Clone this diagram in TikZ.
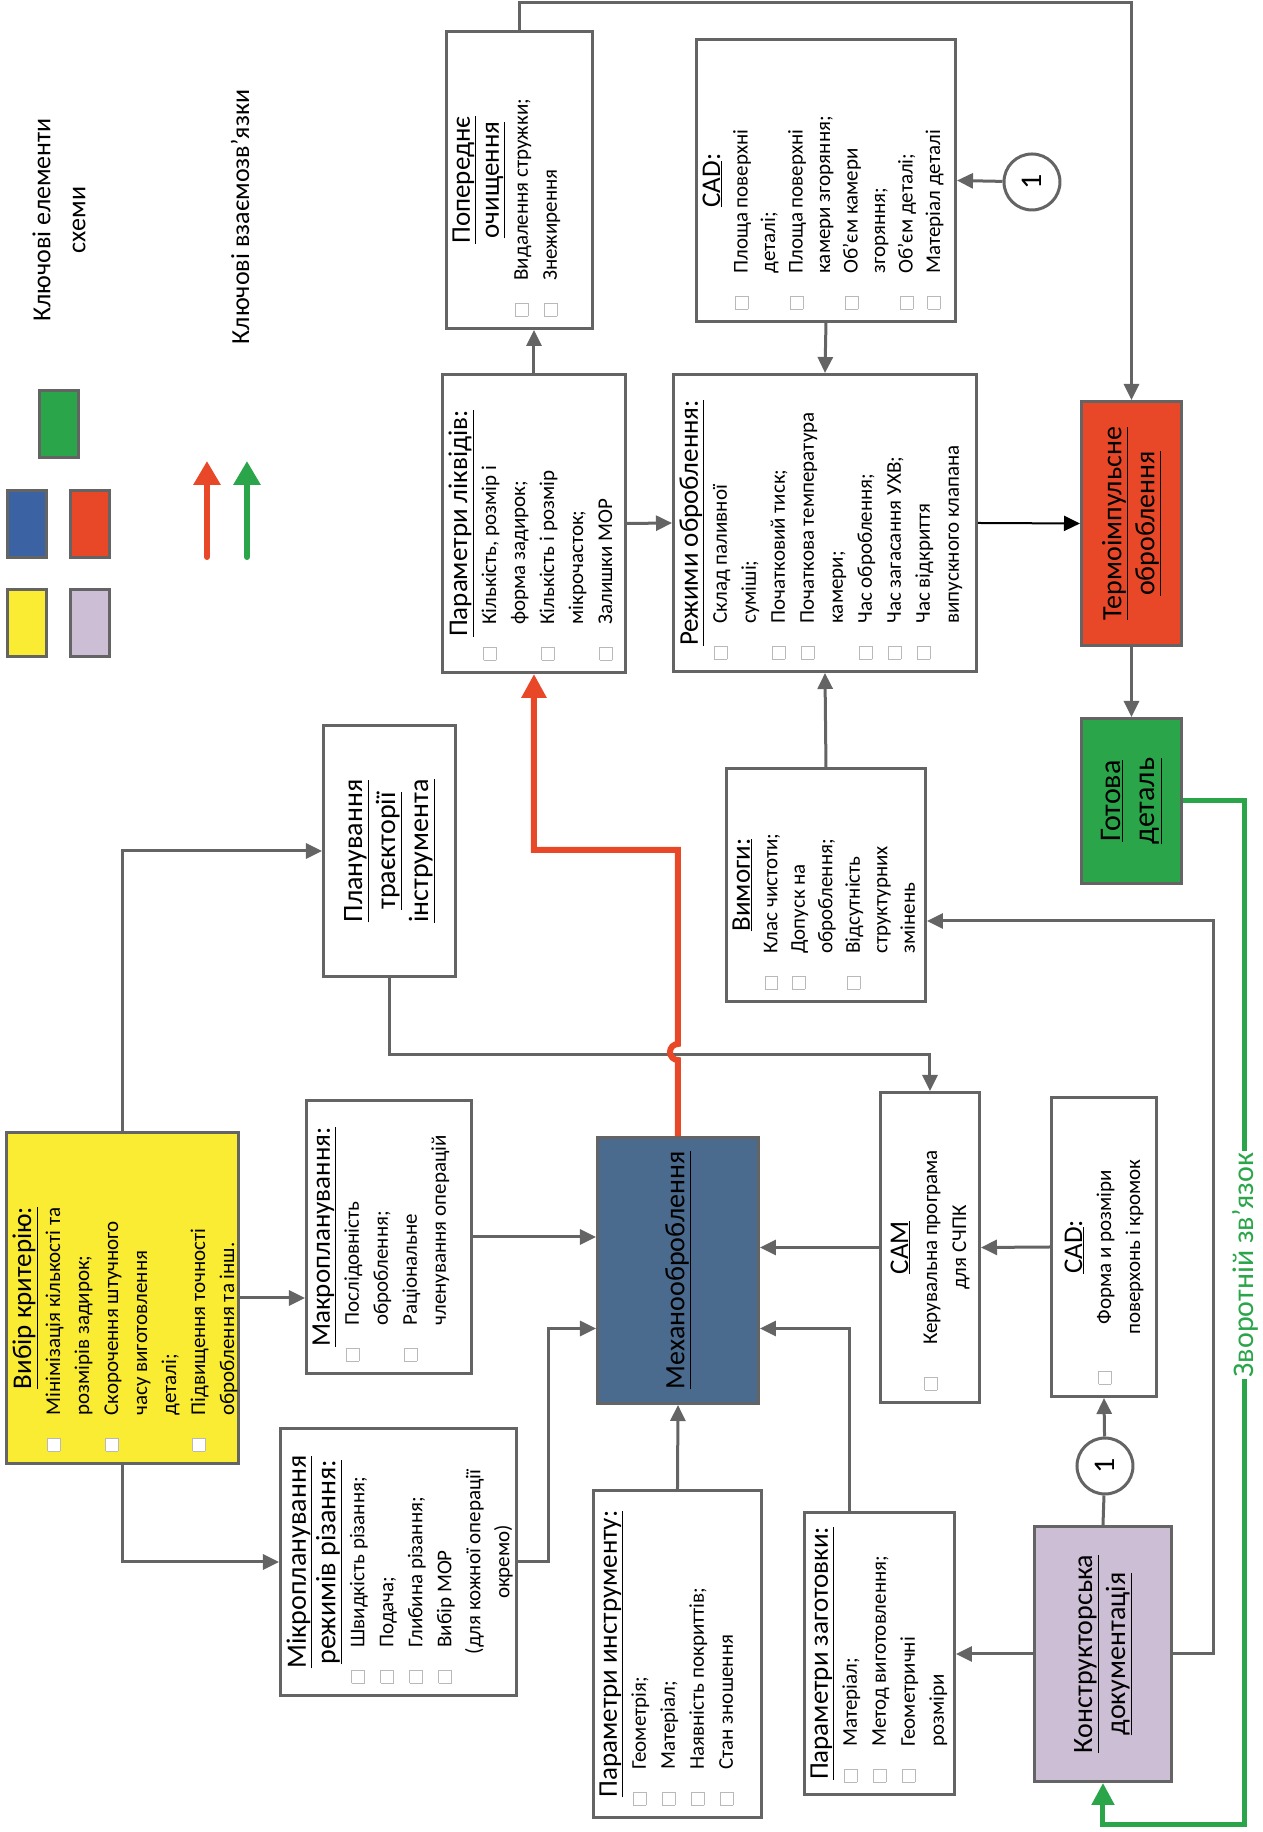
\documentclass[tikz,border=0pt]{standalone}
\usepackage{fontspec}
\setmainfont{Carlito}
\usetikzlibrary{arrows.meta,positioning,calc}

\definecolor{lgray}{RGB}{100,100,100}
\definecolor{sqgray}{RGB}{185,185,185}
\definecolor{cYellow}{RGB}{250,236,50}
\definecolor{cLilac}{RGB}{204,190,212}
\definecolor{cBlue}{RGB}{59,99,163}
\definecolor{cSteel}{RGB}{74,106,142}
\definecolor{cRed}{RGB}{232,72,40}
\definecolor{cGreen}{RGB}{42,165,74}

\newcommand{\bodyfont}{\fontsize{21}{29}\selectfont}
\newcommand{\headfont}{\fontsize{27}{29}\selectfont}
\newcommand{\bighead}{\fontsize{28}{29.5}\selectfont}
\newcommand{\titlefont}{\fontsize{28}{33}\selectfont}
\newcommand{\sqbox}{{\setlength{\fboxsep}{0pt}\setlength{\fboxrule}{0.8pt}\fcolorbox{sqgray}{white}{\rule{0pt}{12pt}\rule{12pt}{0pt}}}}
\newcommand{\hd}[2][\headfont]{{\centering#1 #2\par}}
\newcommand{\itm}[1]{\par\noindent\hangindent=42pt\hangafter=1\makebox[42pt][l]{\hspace*{6pt}\sqbox}{\let\\\newline#1}\par}
\newcommand{\sqline}[1]{\par\noindent\rlap{\hspace*{6pt}\sqbox}\makebox[\linewidth]{#1}\par}
\newcommand{\blocktext}[4][t]{\parbox[c][\dimexpr#3pt-12pt\relax][#1]{\dimexpr#2pt-12pt\relax}{\raggedright#4}}

\begin{document}
\begin{tikzpicture}[x=1pt, y=1pt, rotate=90, transform shape,
    blk/.style={draw=lgray, line width=3pt, fill=white, inner sep=6pt, anchor=south west, font=\bodyfont},
    ttl/.style={draw=lgray, line width=3pt, inner sep=4pt, anchor=south west, align=center, font=\titlefont},
    arr/.style={draw=lgray, line width=3pt, -{Triangle[length=16pt,width=15pt]}},
    lnk/.style={draw=lgray, line width=3pt},
    num/.style={circle, draw=lgray, line width=3pt, fill=white, minimum size=56pt, inner sep=0pt, font=\fontsize{30}{30}\selectfont},
    leg/.style={draw=lgray, line width=3pt, minimum width=67pt, minimum height=39pt}]
  \useasboundingbox (0,0) rectangle (1832,1262);

  % legend
  \node[leg, fill=cYellow] (kyel) at (1208.5,1234.5) {};
  \node[leg, fill=cLilac] (klil) at (1208.5,1171.5) {};
  \node[leg, fill=cBlue] (kblu) at (1308,1234.5) {};
  \node[leg, fill=cRed] (kred) at (1308,1171.5) {};
  \node[leg, fill=cGreen] (kgrn) at (1407.5,1203) {};
  \node[font=\fontsize{26}{35}\selectfont, align=center] (klabel) at (1612,1203) {Ключові елементи\\схеми};
  \node[font=\fontsize{26}{35}\selectfont] (alabel) at (1615,1022) {Ключові взаємозв'язки};
  \coordinate (ra0) at (1275,1055);
  \coordinate (ra1) at (1371,1055);
  \coordinate (ga0) at (1275,1015);
  \coordinate (ga1) at (1371,1015);
  \draw[cRed, line width=6pt, line cap=round, -{Triangle[length=24pt,width=26pt]}] (ra0) -- (ra1);
  \draw[cGreen, line width=6pt, line cap=round, -{Triangle[length=24pt,width=26pt]}] (ga0) -- (ga1);

  % machining side
  \node[blk, fill=cYellow] (sel) at (367,1022) {\blocktext{331}{232}{\hd{\underline{Вибір критерію:}}
    \itm{Мінімізація кількості та\\розмірів задирок;}
    \itm{Скорочення штучного\\часу виготовлення\\деталі;}
    \itm{Підвищення точності\\оброблення та інш.}}};
  \node[blk] (micro) at (135,744) {\blocktext{267}{236}{\hd[\bighead]{\underline{Мікропланування}\\\underline{режимів різання:}}
    \itm{Швидкість різання;}
    \itm{Подача;}
    \itm{Глибина різання;}
    \itm{Вибір МОР}
    {\centering(для кожної операції\\окремо)\par}}};
  \node[blk] (macro) at (457,789) {\blocktext{273}{165}{\hd{\underline{Макропланування:}}
    \itm{Послідовність\\оброблення;}
    \itm{Раціональне\\членування операцій}}};
  \node[ttl, minimum width=251pt, minimum height=132pt] (path) at (854,805)
    {\underline{Планування}\\\underline{траєкторії}\\\underline{інструмента}};
  \node[ttl, fill=cSteel, minimum width=266pt, minimum height=161pt] (mech) at (427,502)
    {\underline{Механооброблення}};
  \node[blk] (tool) at (13,499) {\blocktext{327}{168}{\hd{\underline{Параметри инструменту:}}
    \itm{Геометрія;}
    \itm{Матеріал;}
    \itm{Наявність покриттів;}
    \itm{Стан зношення}}};
  \node[blk] (blank) at (36,306) {\blocktext{282}{150}{\hd{\underline{Параметри заготовки:}}
    \itm{Матеріал;}
    \itm{Метод виготовлення;}
    \itm{Геометричні\\розміри}}};
  \node[ttl, fill=cLilac, minimum width=255pt, minimum height=137pt] (docs) at (49,89)
    {\underline{Конструкторська}\\\underline{документація}};
  \node[blk] (cam) at (428,281) {\blocktext[c]{310}{99}{\hd{\underline{CAM}}
    \sqline{Керувальна програма}
    {\centering для СЧПК\par}}};
  \node[blk] (cadb) at (434,104) {\blocktext[c]{299}{105}{\hd{\underline{CAD}:}
    \sqline{Форма и розміри}
    {\centering поверхонь і кромок\par}}};
  \node[num] (c1b) at (366,157) {1};
  \node[blk, font=\fontsize{21}{27.5}\selectfont] (req) at (829,335) {\blocktext{233}{199}{\hd[\fontsize{27}{27.5}\selectfont]{\underline{Вимоги:}}
    \itm{Клас чистоти;}
    \itm{Допуск на\\оброблення;}
    \itm{Відсутність\\структурних\\змінень}}};

  % thermal side
  \node[blk] (liq) at (1158,635) {\blocktext{298}{183}{\hd{\underline{Параметри ліквідів:}}
    \itm{Кількість, розмір і\\форма задирок;}
    \itm{Кількість і розмір\\мікрочасток;}
    \itm{Залишки МОР}}};
  \node[blk] (clean) at (1502,668) {\blocktext{297}{146}{\hd{\underline{Попереднє}\\\underline{очищення}}
    \itm{Видалення стружки;}
    \itm{Знежирення}}};
  \node[blk] (mode) at (1159,284) {\blocktext{297}{303}{\hd{\underline{Режими оброблення:}}
    \itm{Склад паливної\\суміші;}
    \itm{Початковий тиск;}
    \itm{Початкова температура\\камери;}
    \itm{Час оброблення;}
    \itm{Час загасання УХВ;}
    \itm{Час відкриття\\випускного клапана}}};
  \node[blk, font=\fontsize{21}{27.5}\selectfont] (cadt) at (1509,305) {\blocktext{282}{259}{\hd{\underline{CAD}:}
    \itm{Площа поверхні\\деталі;}
    \itm{Площа поверхні\\камери згоряння;}
    \itm{Об'єм камери\\згоряння;}
    \itm{Об'єм деталі;}
    \itm{Матеріал деталі}}};
  \node[num] (c1t) at (1650,230) {1};
  \node[ttl, fill=cRed, minimum width=244pt, minimum height=100pt] (tpo) at (1185,79)
    {\underline{Термоімпульсне}\\\underline{оброблення}};
  \node[ttl, fill=cGreen, minimum width=165pt, minimum height=100pt, font=\fontsize{30}{34}\selectfont] (part) at (947,79)
    {\underline{Готова}\\\underline{деталь}};

  % links
  \draw[arr] (sel.east) -| (path.north);
  \draw[arr] (sel.south) -- (sel.south |- macro.north);
  \draw[arr] (sel.west) -| (micro.north);
  \draw[arr] (macro.south) -- (macro.south |- mech.north);
  \draw[arr] (micro.south) -- ++(0,-31) -| ([xshift=-58pt]mech.north);
  \draw[arr] (path.west) -- ++(-77,0) |- (cam.east);
  \draw[arr] (tool.east) -- (mech.west);
  \draw[arr] ([yshift=30pt]blank.east) -| ([xshift=-58pt]mech.south);
  \draw[arr] (cam.north) -- (cam.north |- mech.south);
  \draw[arr] (cadb.north) -- (cam.south);
  \draw[lnk] (docs.east) -- (c1b);
  \draw[arr] (c1b) -- (cadb.west);
  \draw[arr] (docs.north) -- (docs.north |- blank.south);
  \draw[arr] (docs.south) -- ++(0,-41) -| ([xshift=-36pt]req.south);
  \draw[arr] (req.east) -- (mode.west);
  \draw[arr] (liq.south) -- (mode.north);
  \draw[arr] (liq.east) -- (liq.east -| clean.west);
  \draw[arr] (cadt.west) -- (mode.east);
  \draw[arr] (c1t) -- (cadt.south);
  \draw[black, line width=2pt, -{Triangle[length=16pt,width=15pt]}] (mode.south) -- (tpo.north);
  \draw[arr] (clean.east) -- ++(27,0) |- (tpo.east);
  \draw[arr] (tpo.west) -- (part.east);
  \draw[cRed, line width=6pt, -{Triangle[length=24pt,width=24pt]}] (mech.east) -- ([xshift=76pt]mech.east)
    arc[start angle=180, end angle=0, radius=8pt] -- ([xshift=286pt]mech.east) |- (liq.west);
  \draw[cGreen, line width=5pt, -{Triangle[length=22pt,width=22pt]}] (part.south) -- ++(0,-62)
    -| ([xshift=-42pt]docs.west) -- (docs.west);
  \node[font=\fontsize{30}{34}\selectfont, text=cGreen, fill=white, inner sep=2pt] (fb) at (567,17) {Зворотній зв'язок};
\end{tikzpicture}
\end{document}
